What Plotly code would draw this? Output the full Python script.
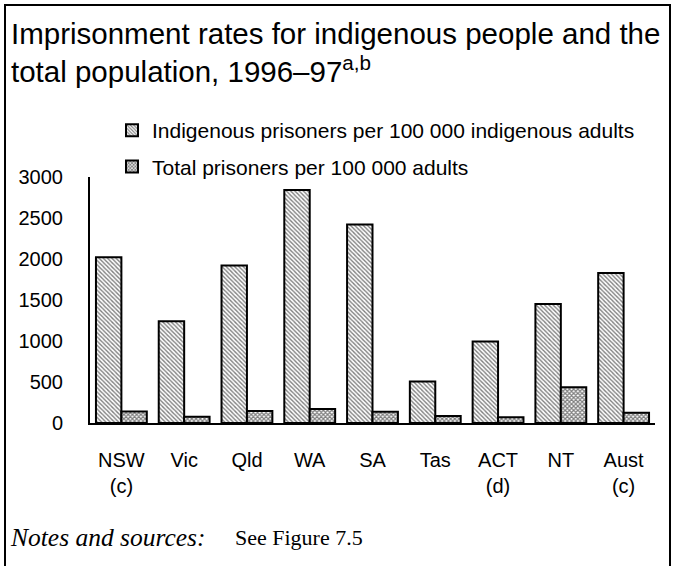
import plotly.graph_objects as go

categories = ["NSW<br>(c)", "Vic", "Qld", "WA", "SA", "Tas", "ACT<br>(d)", "NT", "Aust<br>(c)"]
indigenous = [2020, 1240, 1920, 2840, 2420, 505, 995, 1450, 1830]
total = [140, 75, 145, 170, 138, 85, 70, 435, 125]
series_names = ["Indigenous prisoners per 100 000 indigenous adults",
                "Total prisoners per 100 000 adults"]
y_ticks = [0, 500, 1000, 1500, 2000, 2500, 3000]
title_text = "Imprisonment rates for indigenous people and the<br>total population, 1996–97<sup>a,b</sup>"

W, H = 673, 566
L, R, T, B = 90, 18, 177, 143
pw, ph = W - L - R, H - T - B

def px(x):
    return (x - L) / pw

def py(y):
    return (H - B - y) / ph

SANS = "Liberation Sans, Arial, sans-serif"
SERIF = "Liberation Serif, Times New Roman, serif"

fig = go.Figure()
fig.add_trace(go.Bar(
    x=categories, y=indigenous, name=series_names[0], legendgroup="a",
    marker=dict(color="white", line=dict(color="black", width=2),
                pattern=dict(shape="\\", size=3, solidity=0.45,
                             fgcolor="black", bgcolor="white", fillmode="overlay")),
))
fig.add_trace(go.Bar(
    x=categories, y=total, name=series_names[1], legendgroup="b",
    marker=dict(color="white", line=dict(color="black", width=2),
                pattern=dict(shape="x", size=3, solidity=0.65,
                             fgcolor="black", bgcolor="white", fillmode="overlay")),
))

fig.update_layout(
    width=W, height=H,
    margin=dict(l=L, r=R, t=T, b=B, autoexpand=False),
    paper_bgcolor="white", plot_bgcolor="white",
    barmode="group", bargap=0.19, bargroupgap=0,
    font=dict(family=SANS, color="black", size=20),
    showlegend=True,
    legend=dict(x=px(112), y=py(110), xanchor="left", yanchor="top",
                font=dict(family=SANS, size=21, color="black"),
                traceorder="grouped", tracegroupgap=6,
                bgcolor="rgba(0,0,0,0)", itemwidth=30),
    xaxis=dict(showline=True, linecolor="black", linewidth=2, showgrid=False,
               ticks="", tickfont=dict(size=20), ticklabelstandoff=18,
               zeroline=False),
    yaxis=dict(range=[0, 3000], tickvals=y_ticks, showline=True, linecolor="black",
               linewidth=2, showgrid=False, ticks="", zeroline=False,
               tickfont=dict(size=20), ticklabelstandoff=21),
    shapes=[dict(type="path", xref="paper", yref="paper",
                 path=f"M {px(5)},{py(575)} L {px(5)},{py(5)} L {px(670)},{py(5)} L {px(670)},{py(575)}",
                 line=dict(color="black", width=2))],
    annotations=[
        dict(xref="paper", yref="paper", x=px(9), y=py(52), xanchor="left", yanchor="middle",
             align="left", showarrow=False, text=title_text,
             font=dict(family=SANS, size=29.5, color="black")),
        dict(xref="paper", yref="paper", x=px(8), y=py(537), xanchor="left", yanchor="middle",
             showarrow=False, text="<i>Notes and sources:</i>",
             font=dict(family=SERIF, size=25.5, color="black")),
        dict(xref="paper", yref="paper", x=px(233), y=py(537), xanchor="left", yanchor="middle",
             showarrow=False, text="See Figure 7.5",
             font=dict(family=SERIF, size=22, color="black")),
    ],
)

fig.write_html("out.html", config={"displayModeBar": False},
               post_script="document.body.style.margin='0';")
